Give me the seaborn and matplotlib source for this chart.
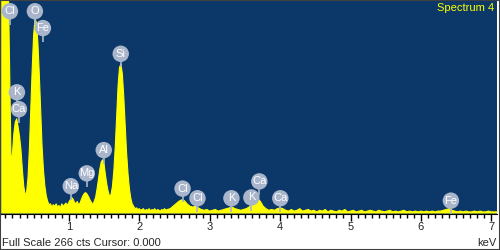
import matplotlib
matplotlib.use("Agg")
import matplotlib.pyplot as plt
import numpy as np
import pandas as pd
import seaborn as sns

# spectrum counts, low energy part: 0.04 .. 2.40 keV, 0.02 keV channels
counts_low = [
    290, 310, 320, 320, 310, 290, 180, 64, 75, 100,
    114, 118, 108, 96, 80, 55, 34, 24, 26, 44,
    80, 130, 180, 222, 242, 238, 214, 175, 128, 84,
    54, 34, 22, 15, 11, 12, 8, 11, 9, 12,
    8, 10, 7, 12, 9, 11, 13, 10,
    14, 17, 20, 18, 14, 12, 15, 11, 13, 18,
    22, 25, 26, 24, 21, 17, 14, 11, 15, 20,
    30, 42, 55, 64, 67, 62, 48, 36, 27, 21,
    24, 34, 54, 84, 122, 160, 182, 186, 174, 146,
    110, 76, 50, 31, 19, 12, 9, 6, 7, 5,
    6, 4, 5, 6, 3, 5, 4, 6, 3, 5,
    4, 6, 3, 5, 4, 3, 5, 4, 6, 4, 5,
]
# high energy part: 2.44 .. 7.08 keV, 0.04 keV steps
counts_high = [
    6, 9, 12, 15, 17, 16, 12, 9, 8, 9,
    7, 5, 4, 5, 3, 4, 5, 3, 4, 5,
    6, 7, 8, 6, 5,
    4, 5, 6, 8, 12, 16, 19, 15, 9, 6,
    4, 5, 4, 6, 7, 6, 4, 3, 5, 3,
    4, 6, 3, 4, 5,
    3, 4, 2, 4, 3, 5, 2, 4, 3, 2,
    4, 3, 5, 2, 3, 4, 2, 3, 4, 2,
    3, 4, 3, 2, 4,
    3, 2, 3, 4, 2, 3, 2, 3, 4, 2,
    3, 2, 3, 2, 3, 2, 3, 2, 3, 2,
    3, 3, 4, 5, 6,
    4, 3, 2, 3, 2, 3, 2, 2, 3, 2,
    3, 2, 2, 3, 2, 2, 2,
]

# peak markers: element, energy (keV), marker height (counts)
label_names = ["Cl", "O", "Fe", "Si", "K", "Ca", "Al", "Mg", "Na",
               "Cl", "Cl", "K", "K", "Ca", "Ca", "Fe"]
label_kev = [0.164, 0.518, 0.632, 1.737, 0.263, 0.292, 1.496, 1.255, 1.028,
             2.615, 2.827, 3.309, 3.592, 3.705, 4.003, 6.425]
label_cts = [252, 252, 231, 199, 151, 130, 79, 50, 34,
             31, 19, 19, 20, 40, 19, 16]

full_scale = 266

energy = np.concatenate([
    np.linspace(0.04, 2.40, len(counts_low)),
    np.linspace(2.44, 7.08, len(counts_high)),
])
spec = pd.DataFrame({"keV": energy, "counts": counts_low + counts_high})
marks = pd.DataFrame({"name": label_names, "keV": label_kev, "cts": label_cts})

bg = "#0b3869"
yellow = "#ffff00"
grey = "#a9b5cb"

sns.set_style("ticks", {"axes.facecolor": bg, "figure.facecolor": "white"})
plt.rcParams["font.family"] = ["Liberation Sans", "DejaVu Sans"]

fig = plt.figure(figsize=(5, 2.5), dpi=100)
ax = fig.add_axes([0.002, 0.146, 0.992, 0.854])

ax.fill_between(spec["keV"], 0, spec["counts"], color=yellow, lw=0)
sns.lineplot(data=spec, x="keV", y="counts", color=yellow, lw=0.8, ax=ax)

ax.vlines(marks["keV"], marks["cts"] - 17, marks["cts"], color=grey, lw=1.2, zorder=3)
sns.scatterplot(data=marks, x="keV", y="cts", s=140, color=grey,
                edgecolor="none", ax=ax, zorder=4)
for _, r in marks.iterrows():
    ax.text(r["keV"], r["cts"], r["name"], color="white", fontsize=8,
            ha="center", va="center", zorder=5)

ax.set_xlim(0.037, 7.08)
ax.set_ylim(0, full_scale)
ax.set_xticks(range(1, 8))
ax.set_xticks(np.arange(0.1, 7.05, 0.1), minor=True)
ax.set_yticks([])
ax.tick_params(axis="x", which="major", length=5, width=1, pad=1,
               labelsize=8, color="black")
ax.tick_params(axis="x", which="minor", length=3, width=1, color="black")
ax.set_xlabel("")
ax.set_ylabel("")
for s in ["left", "right", "top"]:
    ax.spines[s].set_visible(False)
ax.spines["bottom"].set_color("black")

ax.text(0.995, 0.985, "Spectrum 4", transform=ax.transAxes, color=yellow,
        fontsize=8, ha="right", va="top")
fig.text(0.004, 0.018, "Full Scale 266 cts Cursor: 0.000", fontsize=8,
         ha="left", va="baseline")
fig.text(0.992, 0.018, "keV", fontsize=8, ha="right", va="baseline")

fig.patches.append(plt.Rectangle((0, 0), 1, 1, transform=fig.transFigure,
                                 fill=False, edgecolor="#404040", lw=1.5))

fig.savefig("out.png", dpi=100)
